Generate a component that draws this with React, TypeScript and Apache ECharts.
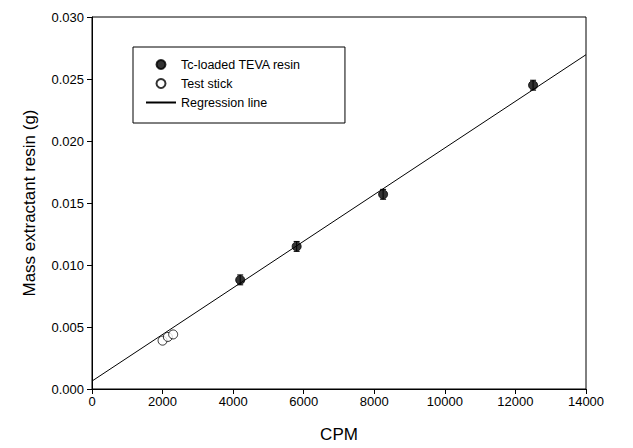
import React, { useEffect, useRef } from "react";
import * as echarts from "echarts";

const tcCPM = [4200, 5800, 8250, 12500];
const tcMass = [0.0088, 0.0115, 0.0157, 0.0245];
const tcErr = [0.0004, 0.0004, 0.0004, 0.0004];
const stickCPM = [2000, 2150, 2300];
const stickMass = [0.0039, 0.0042, 0.0044];
const regressionCPM = [0, 14000];
const regressionMass = [0.00064, 0.02696];
const legendNames = ["Tc-loaded TEVA resin", "Test stick", "Regression line"];

const FONT = "'Liberation Sans', Arial, sans-serif";

export default function App() {
  const ref = useRef<HTMLDivElement>(null);
  useEffect(() => {
    document.body.style.margin = "0";
    const chart = echarts.init(ref.current!, null, { renderer: "svg" });
    const errData = tcCPM.map((x, i) => [x, tcMass[i] - tcErr[i], tcMass[i] + tcErr[i]]);
    chart.setOption({
      animation: false,
      backgroundColor: "#fff",
      textStyle: { fontFamily: FONT },
      grid: { left: 92, right: 47, top: 17, bottom: 56, show: true, borderColor: "#000", borderWidth: 1 },
      legend: {
        left: 133,
        top: 47,
        orient: "vertical",
        data: [
          { name: legendNames[0] },
          { name: legendNames[1] },
          { name: legendNames[2], itemStyle: { color: "transparent", borderColor: "transparent", borderWidth: 0 } },
        ],
        itemWidth: 30,
        itemHeight: 9,
        itemGap: 6,
        padding: [11, 44, 14, 12],
        borderColor: "#000",
        borderWidth: 1,
        textStyle: { fontFamily: FONT, fontSize: 12.5, color: "#000" },
      },
      xAxis: {
        type: "value",
        min: 0,
        max: 14000,
        interval: 2000,
        name: "CPM",
        nameLocation: "middle",
        nameGap: 37,
        nameTextStyle: { fontFamily: FONT, fontSize: 17, color: "#000", verticalAlign: "top" },
        axisLine: { show: true, lineStyle: { color: "#000", width: 1 } },
        axisTick: { show: true, length: 5, inside: false, lineStyle: { color: "#000" } },
        axisLabel: { fontFamily: FONT, fontSize: 13, color: "#000", margin: 6, formatter: (v: number) => String(v) },
        splitLine: { show: false },
      },
      yAxis: {
        type: "value",
        min: 0,
        max: 0.03,
        interval: 0.005,
        name: "Mass extractant resin (g)",
        nameLocation: "middle",
        nameGap: 54,
        nameTextStyle: { fontFamily: FONT, fontSize: 17, color: "#000" },
        axisLine: { show: true, lineStyle: { color: "#000", width: 1 } },
        axisTick: { show: true, length: 5, inside: false, lineStyle: { color: "#000" } },
        axisLabel: {
          fontFamily: FONT,
          fontSize: 13,
          color: "#000",
          margin: 8,
          formatter: (v: number) => v.toFixed(3),
        },
        splitLine: { show: false },
      },
      series: [
        {
          name: "Regression line",
          type: "line",
          data: regressionCPM.map((x, i) => [x, regressionMass[i]]),
          symbol: "none",
          itemStyle: { color: "#000" },
          lineStyle: { color: "#000", width: 1 },
          z: 2,
        },
        {
          name: "Tc-loaded error",
          type: "custom",
          data: errData,
          renderItem: (params: any, api: any) => {
            const x = api.value(0);
            const lo = api.coord([x, api.value(1)]);
            const hi = api.coord([x, api.value(2)]);
            const cw = 3;
            return {
              type: "group",
              children: [
                { type: "line", shape: { x1: lo[0], y1: lo[1], x2: hi[0], y2: hi[1] }, style: { stroke: "#000", lineWidth: 1 } },
                { type: "line", shape: { x1: lo[0] - cw, y1: lo[1], x2: lo[0] + cw, y2: lo[1] }, style: { stroke: "#000", lineWidth: 1 } },
                { type: "line", shape: { x1: hi[0] - cw, y1: hi[1], x2: hi[0] + cw, y2: hi[1] }, style: { stroke: "#000", lineWidth: 1 } },
              ],
            };
          },
          z: 3,
        },
        {
          name: "Tc-loaded TEVA resin",
          type: "scatter",
          data: tcCPM.map((x, i) => [x, tcMass[i]]),
          symbol: "circle",
          symbolSize: 9,
          itemStyle: { color: "#000", borderColor: "#000", borderWidth: 1 },
          z: 4,
        },
        {
          name: "Test stick",
          type: "scatter",
          data: stickCPM.map((x, i) => [x, stickMass[i]]),
          symbol: "circle",
          symbolSize: 9,
          itemStyle: { color: "#fff", borderColor: "#000", borderWidth: 1 },
          z: 4,
        },
      ],
    });
    return () => chart.dispose();
  }, []);
  return <div ref={ref} style={{ width: 633, height: 448 }} />;
}
